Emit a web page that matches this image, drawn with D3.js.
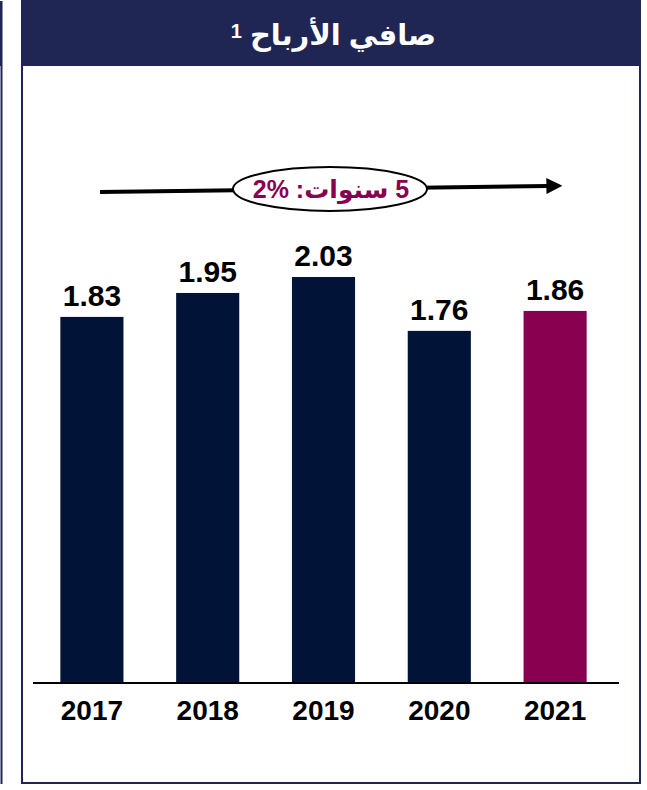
<!DOCTYPE html>
<html>
<head>
<meta charset="utf-8">
<script src="https://cdn.jsdelivr.net/npm/d3@7"></script>
<style>
  html, body { margin: 0; padding: 0; background: #fff; }
  svg { display: block; font-family: Arial, 'Liberation Sans', 'DejaVu Sans', sans-serif; }
</style>
</head>
<body>
<svg width="647" height="790"></svg>
<script>
// chart data
let years = ['2017', '2018', '2019', '2020', '2021'];
let profits = [1.83, 1.95, 2.03, 1.76, 1.86];
let highlightYear = '2021';
let titleText = 'صافي الأرباح';
let titleNote = '1';
// LRM keeps "2%" in left-to-right order inside the arabic text
let cagrText = '5 سنوات: \u200E2%';

let navy = '#1f2654';
let barNavy = '#011336';
let maroon = '#8a0050';

let svg = d3.select('svg');

// partial panel peeking in at the left
svg.append('rect')
  .attr('x', -10).attr('y', 1)
  .attr('width', 12.5).attr('height', 65)
  .attr('fill', navy);
svg.append('line')
  .attr('x1', 1.5).attr('x2', 1.5)
  .attr('y1', 66).attr('y2', 784)
  .attr('stroke', navy).attr('stroke-width', 2);

// main panel
let panel = { left: 22, top: 1, right: 640, bottom: 783, header: 66 };
svg.append('rect')
  .attr('x', panel.left).attr('y', panel.top)
  .attr('width', panel.right - panel.left)
  .attr('height', panel.header - panel.top)
  .attr('fill', navy);
svg.append('rect')
  .attr('x', panel.left).attr('y', panel.top)
  .attr('width', panel.right - panel.left)
  .attr('height', panel.bottom - panel.top)
  .attr('fill', 'none')
  .attr('stroke', navy)
  .attr('stroke-width', 2);

// title
let title = svg.append('text')
  .attr('x', 343).attr('y', 45)
  .attr('text-anchor', 'middle')
  .attr('direction', 'rtl')
  .attr('fill', '#fff')
  .attr('font-weight', 'bold')
  .attr('font-size', 29)
  .text(titleText);
let tw = title.node().getComputedTextLength();
svg.append('text')
  .attr('x', 343 - tw / 2 - 8).attr('y', 38)
  .attr('text-anchor', 'end')
  .attr('fill', '#fff')
  .attr('font-weight', 'bold')
  .attr('font-size', 20)
  .text(titleNote);

// scales
let x = d3.scaleBand()
  .domain(years)
  .range([34, 613])
  .paddingInner(0.455)
  .paddingOuter(0.2275);
let y = d3.scaleLinear()
  .domain([0, 2.5])
  .range([682, 682 - 2.5 * 199.5]);

// bars
svg.append('g')
  .selectAll('rect')
  .data(years)
  .enter()
  .append('rect')
  .attr('x', function(d) { return x(d); })
  .attr('width', x.bandwidth())
  .attr('y', function(d, i) { return y(profits[i]); })
  .attr('height', function(d, i) { return y(0) - y(profits[i]); })
  .attr('fill', function(d) { return d == highlightYear ? maroon : barNavy; });

// value labels
svg.append('g')
  .selectAll('text')
  .data(years)
  .enter()
  .append('text')
  .attr('x', function(d) { return x(d) + x.bandwidth() / 2; })
  .attr('y', function(d, i) { return y(profits[i]) - 11; })
  .attr('text-anchor', 'middle')
  .attr('font-weight', 'bold')
  .attr('font-size', 30)
  .attr('fill', '#000')
  .text(function(d, i) { return profits[i].toFixed(2); });

// baseline + year labels
let xAxis = svg.append('g')
  .attr('transform', 'translate(0,' + y(0) + ')')
  .call(d3.axisBottom(x).tickSize(0).tickPadding(18));
xAxis.select('.domain').remove();
xAxis.selectAll('text')
  .attr('font-family', null)
  .attr('font-size', 28)
  .attr('font-weight', 'bold')
  .attr('fill', '#000');
svg.append('line')
  .attr('x1', 33).attr('x2', 619)
  .attr('y1', y(0) + 1).attr('y2', y(0) + 1)
  .attr('stroke', '#000')
  .attr('stroke-width', 2);

// growth arrow with ellipse
let defs = svg.append('defs');
defs.append('marker')
  .attr('id', 'head')
  .attr('viewBox', '0 0 10 10')
  .attr('refX', 1).attr('refY', 5)
  .attr('markerWidth', 4).attr('markerHeight', 4)
  .attr('markerUnits', 'strokeWidth')
  .attr('orient', 'auto')
  .append('path')
  .attr('d', 'M0,0L10,5L0,10z')
  .attr('fill', '#000');
svg.append('line')
  .attr('x1', 100).attr('y1', 192)
  .attr('x2', 548).attr('y2', 186)
  .attr('stroke', '#000')
  .attr('stroke-width', 4)
  .attr('marker-end', 'url(#head)');
svg.append('ellipse')
  .attr('cx', 330).attr('cy', 189)
  .attr('rx', 97).attr('ry', 22)
  .attr('fill', '#fff')
  .attr('stroke', '#000')
  .attr('stroke-width', 2);
svg.append('text')
  .attr('x', 331).attr('y', 198)
  .attr('text-anchor', 'middle')
  .attr('direction', 'rtl')
  .attr('font-weight', 'bold')
  .attr('font-size', 25)
  .attr('fill', maroon)
  .text(cagrText);
</script>
</body>
</html>
